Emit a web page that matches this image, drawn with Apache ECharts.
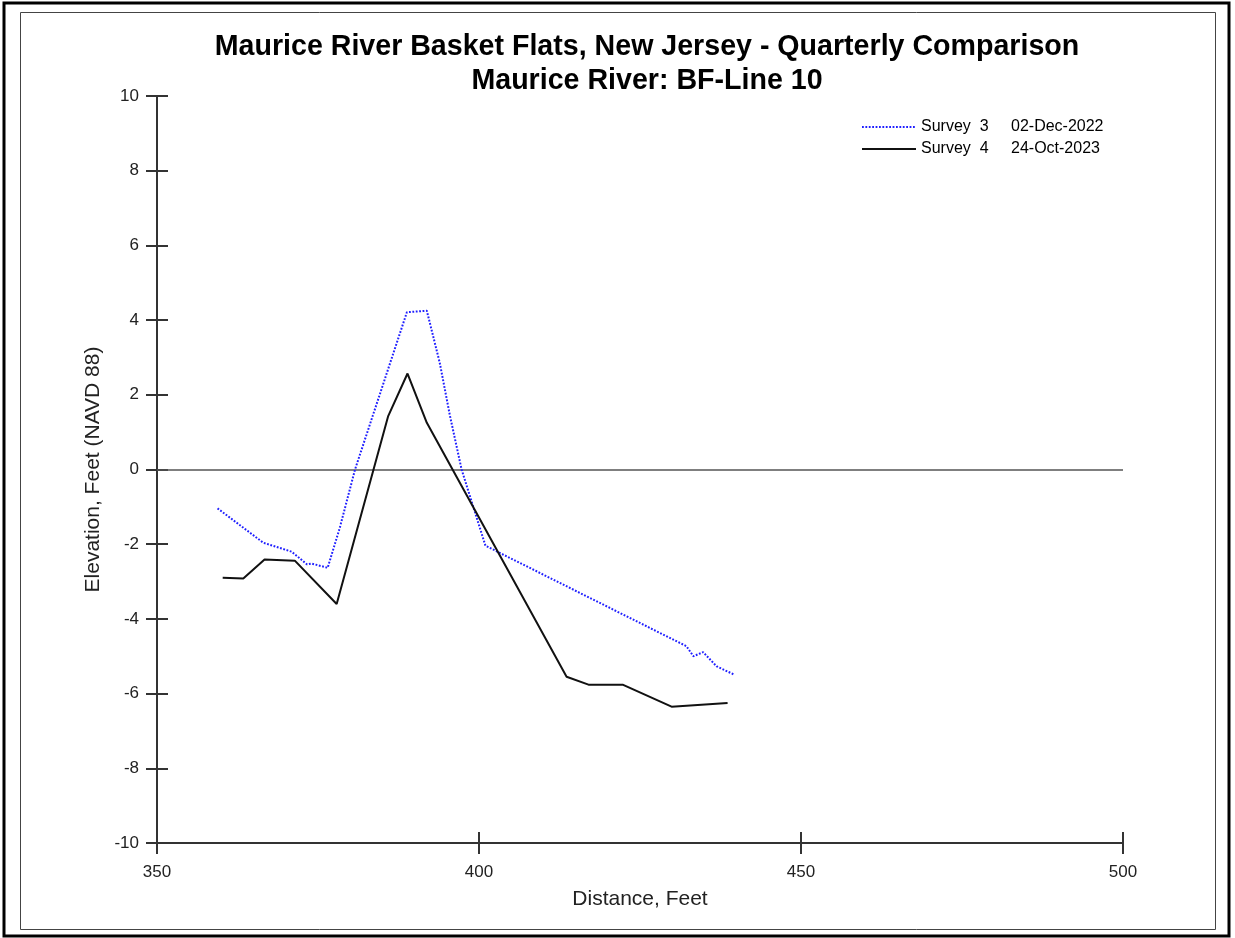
<!DOCTYPE html>
<html>
<head>
<meta charset="utf-8">
<script src="https://cdn.jsdelivr.net/npm/echarts@6/dist/echarts.min.js"></script>
<style>
  html, body { margin: 0; padding: 0; background: #fff; }
  #chart { width: 1235px; height: 938px; }
</style>
</head>
<body>
<div id="chart"></div>
<script>
// Survey 3 (02-Dec-2022): distance (ft) and elevation (ft, NAVD 88)
const survey3Dist = [359.4, 366.5, 370.9, 373.3, 374.0, 376.5, 378.4, 380.75, 388.8, 391.9, 393.9, 395.5, 397.3, 401.0, 432.2, 433.3, 434.8, 436.9, 439.6];
const survey3Elev = [-1.04, -1.96, -2.20, -2.54, -2.52, -2.63, -1.55, 0.0, 4.21, 4.25, 2.86, 1.43, 0.0, -2.04, -4.73, -5.00, -4.89, -5.27, -5.49];

// Survey 4 (24-Oct-2023)
const survey4Dist = [360.2, 363.4, 366.7, 371.4, 377.9, 385.9, 388.9, 391.9, 413.6, 417.0, 422.3, 429.9, 438.6];
const survey4Elev = [-2.90, -2.92, -2.41, -2.44, -3.60, 1.43, 2.57, 1.25, -5.55, -5.76, -5.76, -6.35, -6.25];

const seriesNames = ['Survey  3', 'Survey  4'];
const seriesDates = ['02-Dec-2022', '24-Oct-2023'];

const titleLines = ['Maurice River Basket Flats, New Jersey - Quarterly Comparison', 'Maurice River: BF-Line 10'];
const xName = 'Distance, Feet';
const yName = 'Elevation, Feet (NAVD 88)';
const xMin = 350, xMax = 500, xStep = 50;
const yMin = -10, yMax = 10, yStep = 2;

const FONT = '"Liberation Sans", Arial, sans-serif';
const pair = (xs, ys) => xs.map((x, i) => [x, ys[i]]);

const tickStyle = { color: '#333', width: 2 };
const axisCommon = {
  type: 'value',
  splitLine: { show: false },
  axisLine: { show: true, onZero: false, lineStyle: { color: '#333', width: 2 } },
  axisTick: { show: true, inside: false, length: 11, lineStyle: tickStyle }
};
// second copy of each axis carries the inner half of the crossing ticks
const innerTicks = {
  axisLine: { show: false, onZero: false },
  axisTick: { show: true, inside: true, length: 11, lineStyle: tickStyle },
  axisLabel: { show: false }
};

const chart = echarts.init(document.getElementById('chart'));
chart.setOption({
  backgroundColor: '#fff',
  animation: false,
  title: {
    text: titleLines.join('\n'),
    left: 642,
    top: 25,
    textAlign: 'center',
    textStyle: { fontFamily: FONT, fontSize: 28.6, fontWeight: 'bold', color: '#000', lineHeight: 34 }
  },
  legend: {
    left: 861,
    top: 119,
    padding: 0,
    orient: 'vertical',
    itemWidth: 54,
    itemHeight: 12,
    itemGap: 6,
    itemStyle: { opacity: 0 },
    data: seriesNames,
    formatter: name => '{a|' + name + '}{b|' + seriesDates[seriesNames.indexOf(name)] + '}',
    textStyle: {
      fontFamily: FONT, fontSize: 16, color: '#000',
      rich: { a: { width: 90, fontFamily: FONT, fontSize: 16 }, b: { fontFamily: FONT, fontSize: 16 } }
    }
  },
  grid: { left: 157, right: 112, top: 96, bottom: 95 },
  xAxis: [
    Object.assign({}, axisCommon, {
      min: xMin, max: xMax, interval: xStep, position: 'bottom',
      name: xName, nameLocation: 'middle', nameGap: 46,
      nameTextStyle: { fontFamily: FONT, fontSize: 21, color: '#222' },
      axisLabel: { fontFamily: FONT, fontSize: 17, color: '#222', margin: 21 }
    }),
    Object.assign({}, axisCommon, innerTicks, {
      min: xMin, max: xMax, interval: xStep, position: 'bottom', offset: 0
    })
  ],
  yAxis: [
    Object.assign({}, axisCommon, {
      min: yMin, max: yMax, interval: yStep, position: 'left',
      name: yName, nameLocation: 'middle', nameGap: 50,
      nameTextStyle: { fontFamily: FONT, fontSize: 21, color: '#222' },
      axisLabel: { fontFamily: FONT, fontSize: 17, color: '#222', margin: 18 }
    }),
    Object.assign({}, axisCommon, innerTicks, {
      min: yMin, max: yMax, interval: yStep, position: 'left', offset: 0
    })
  ],
  series: [
    {
      name: seriesNames[0],
      type: 'line',
      data: pair(survey3Dist, survey3Elev),
      symbol: 'none',
      color: '#1f1fff',
      lineStyle: { color: '#1f1fff', width: 2, type: [1.8, 1.6] },
      z: 3,
      markLine: {
        silent: true,
        symbol: 'none',
        label: { show: false },
        lineStyle: { color: '#555', width: 1.5, type: 'solid' },
        data: [{ yAxis: 0 }],
        z: 1
      }
    },
    {
      name: seriesNames[1],
      type: 'line',
      data: pair(survey4Dist, survey4Elev),
      symbol: 'none',
      color: '#111',
      lineStyle: { color: '#111', width: 2 },
      z: 4
    }
  ],
  graphic: [
    // outer page frame
    { type: 'rect', shape: { x: 4, y: 3, width: 1225, height: 933 }, style: { fill: 'none', stroke: '#000', lineWidth: 3 }, silent: true },
    // inner panel frame
    { type: 'rect', shape: { x: 20.5, y: 12.5, width: 1195, height: 917 }, style: { fill: 'none', stroke: '#444', lineWidth: 1 }, silent: true }
  ]
});
</script>
</body>
</html>
